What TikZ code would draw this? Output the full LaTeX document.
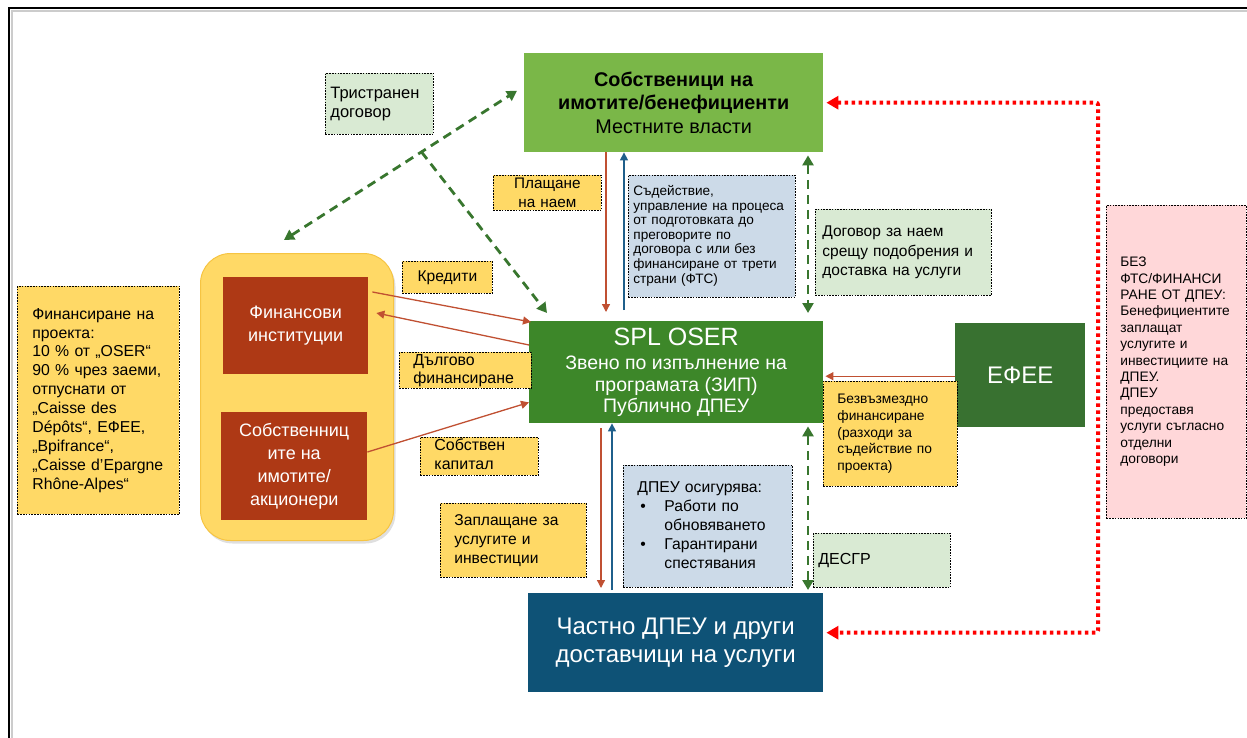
\documentclass[tikz,border=0pt]{standalone}
\usepackage{fontspec}
\setmainfont{Liberation Sans}
\usetikzlibrary{arrows.meta,calc,shadows}
\definecolor{topg}{RGB}{122,183,72}
\definecolor{splg}{RGB}{61,135,41}
\definecolor{efeeg}{RGB}{56,113,48}
\definecolor{dblue}{RGB}{14,82,118}
\definecolor{rust}{RGB}{174,57,21}
\definecolor{ylw}{RGB}{255,217,102}
\definecolor{ylwedge}{RGB}{246,196,66}
\definecolor{lgreen}{RGB}{217,234,211}
\definecolor{lblue}{RGB}{204,218,232}
\definecolor{lpink}{RGB}{255,215,217}
\definecolor{redln}{RGB}{192,80,50}
\definecolor{blueln}{RGB}{31,95,139}
\definecolor{dashg}{RGB}{56,118,46}
\newcommand{\fsz}[2]{\fontsize{#1}{#2}\selectfont}
\newcommand{\lines}[2]{\hspace*{#1pt}\begin{tabular}{@{}l@{}}#2\end{tabular}}
\tikzset{
  blk/.style={anchor=north west, inner sep=0pt, align=center},
  lbl/.style={anchor=north west, draw=black, line width=0.8pt, dash pattern=on 1.6pt off 1.2pt, inner sep=0pt, align=left},
  redarr/.style={draw=redln, line width=1.3pt, -{Triangle[length=8pt,width=8pt]}},
  bluearr/.style={draw=blueln, line width=1.3pt, -{Triangle[length=8pt,width=8pt]}},
  greendash/.style={draw=dashg, line width=2.8pt, dash pattern=on 9pt off 6pt, {Triangle[length=10pt,width=11pt]}-{Triangle[length=10pt,width=11pt]}},
  greenone/.style={draw=dashg, line width=2.8pt, dash pattern=on 9pt off 6pt, -{Triangle[length=10pt,width=11pt]}},
  reddot/.style={draw=red, line width=4pt, dash pattern=on 3.5pt off 3.5pt, {Triangle[length=12pt,width=13pt]}-{Triangle[length=12pt,width=13pt]}},
}
\begin{document}
\begin{tikzpicture}[x=1pt,y=-1pt]
\useasboundingbox (0,0) rectangle (1247,738);
% frame
\draw[gray!40, line width=2pt] (12,740) -- (12,11) -- (1247,11);
\draw[black, line width=1.3pt] (9,738) -- (9,8) -- (1247,8);

% group box
\node[blk, minimum width=193pt, minimum height=287pt, fill=ylw, draw=ylwedge, line width=1pt, rounded corners=30pt,
  drop shadow={shadow xshift=2pt, shadow yshift=-3pt, opacity=0.25, fill=gray}] (grp) at (200,253) {};
\node[blk, minimum width=145pt, minimum height=97pt, fill=rust, text=white, font=\fsz{18}{23}] (fin) at (223,277)
  {Финансови\\институции};
\node[blk, minimum width=146pt, minimum height=108pt, fill=rust, text=white, font=\fsz{18}{23}] (own) at (221,412)
  {Собственниц\\ите на\\имотите/\\акционери};

% main boxes
\node[blk, minimum width=299pt, minimum height=99pt, fill=topg, font=\fsz{19.8}{23.5}] (top) at (524,53)
  {\textbf{Собственици на}\\\textbf{имотите/бенефициенти}\\Местните власти};
\node[blk, minimum width=294pt, minimum height=102pt, fill=splg, text=white, font=\fsz{19.5}{21.5}] (spl) at (529,321)
  {{\fsz{25}{26}SPL OSER}\\[3pt]Звено по изпълнение на\\програмата (ЗИП)\\Публично ДПЕУ};
\node[blk, minimum width=295pt, minimum height=99pt, fill=dblue, text=white, font=\fsz{24}{28.5}] (ch) at (528,593)
  {Частно ДПЕУ и други\\доставчици на услуги};
\node[blk, minimum width=130pt, minimum height=104pt, fill=efeeg, text=white, font=\fsz{24}{28}] (efee) at (955,323)
  {ЕФЕЕ};

% labels
\node[lbl, fill=lgreen, minimum height=61pt, text width=108pt, font=\fsz{16.5}{19}] (tri) at (325,73)
  {\lines{5}{Тристранен\\договор}};
\node[lbl, fill=ylw, minimum height=35pt, text width=108pt, align=center, font=\fsz{15.3}{18.5}] (plat) at (493,175)
  {Плащане\\на наем};
\node[lbl, fill=lblue, minimum height=122pt, text width=167pt, font=\fsz{13.6}{14.6}] (sud) at (628,175)
  {\lines{5}{Съдействие,\\управление на процеса\\от подготовката до\\преговорите по\\договора с или без\\финансиране от трети\\страни (ФТС)}};
\node[lbl, fill=lgreen, minimum height=86pt, text width=176pt, font=\fsz{15.5}{19.5}] (dog) at (815,209)
  {\lines{7}{Договор за наем\\срещу подобрения и\\доставка на услуги}};
\node[lbl, fill=lpink, minimum height=313pt, text width=140pt, font=\fsz{13.75}{16.4}] (pink) at (1106,205)
  {\lines{14}{БЕЗ\\ФТС/ФИНАНСИ\\РАНЕ ОТ ДПЕУ:\\Бенефициентите\\заплащат\\услугите и\\инвестициите на\\ДПЕУ.\\ДПЕУ\\предоставя\\услуги съгласно\\отделни\\договори}};
\node[lbl, fill=ylw, minimum height=105pt, text width=134pt, font=\fsz{13.8}{16.7}] (bez) at (823,381)
  {\lines{14}{Безвъзмездно\\финансиране\\(разходи за\\съдействие по\\проекта)}};
\node[lbl, fill=ylw, minimum height=32pt, text width=90pt, align=center, font=\fsz{15.6}{18}] (kred) at (402,261)
  {Кредити};
\node[lbl, fill=ylw, minimum height=36pt, text width=132pt, font=\fsz{15.9}{18}] (dolg) at (399,352)
  {\lines{14}{Дългово\\финансиране}};
\node[lbl, fill=ylw, minimum height=38pt, text width=118pt, font=\fsz{16}{19}] (sob) at (420,437)
  {\lines{14}{Собствен\\капитал}};
\node[lbl, fill=ylw, minimum height=228pt, text width=162pt, font=\fsz{15.8}{18.9}] (left) at (17,286)
  {\lines{15}{Финансиране на\\проекта:\\10 \% от „OSER“\\90 \% чрез заеми,\\отпуснати от\\„Caisse des\\Dépôts“, ЕФЕЕ,\\„Bpifrance“,\\„Caisse d’Epargne\\Rhône-Alpes“}};
\node[lbl, fill=ylw, minimum height=74pt, text width=146pt, font=\fsz{15.6}{19}] (zap) at (440,503)
  {\lines{14}{Заплащане за\\услугите и\\инвестиции}};
\node[lbl, fill=lblue, minimum height=122pt, text width=169pt, font=\fsz{15.7}{19}] (dpeu) at (623,465)
  {\lines{14}{ДПЕУ осигурява:\\\makebox[27pt][l]{\hspace{3pt}•}Работи по\\\hspace*{27pt}обновяването\\\makebox[27pt][l]{\hspace{3pt}•}Гарантирани\\\hspace*{27pt}спестявания}};
\node[lbl, fill=lgreen, minimum height=54pt, text width=137pt, font=\fsz{16}{19}] (desgr) at (813,533)
  {\lines{5}{ДЕСГР}};

% tri-party dashed connectors
\coordinate (g1) at ($(grp.north east)+(-110,-13)$);
\coordinate (g2) at ($(top.west)+(-7,-12)$);
\coordinate (gj) at ($(g1)!0.59!(g2)$);
\draw[greendash] (g1) -- (g2);
\draw[greenone] (gj) -- ($(spl.north west)+(18,-8)$);

% vertical connectors top <-> spl
\draw[redarr] ($(top.south west)+(82,0)$) -- ($(spl.north west)+(77,-9)$);
\draw[bluearr] ($(spl.north west)+(95,-11)$) -- ($(top.south west)+(100,0)$);
\draw[greendash] ($(top.south west)+(284,3)$) -- ($(spl.north west)+(279,-8)$);

% vertical connectors spl <-> ch
\draw[redarr] ($(spl.south west)+(72,5)$) -- ($(ch.north west)+(73,-5)$);
\draw[bluearr] ($(ch.north west)+(84,-3)$) -- ($(spl.south west)+(83,0)$);
\draw[greendash] ($(spl.south west)+(279,3)$) -- ($(ch.north west)+(280,-3)$);

% EFEE -> SPL
\draw[redarr] ($(efee.west)+(0,1)$) -- ($(efee.west -| spl.east)+(2,1)$);

% left arrows
\draw[redarr] ($(fin.north east)+(4,15)$) -- ($(spl.north west)+(2,1)$);
\draw[redarr] ($(spl.north west)+(0,24)$) -- ($(fin.north east)+(8,36)$);
\draw[redarr] ($(own.north east)+(0,40)$) -- ($(spl.south west)+(0,-21)$);

% red dotted
\coordinate (rx) at ($(pink.west)+(-8,0)$);
\draw[reddot, rounded corners=2pt] ($(top.east)+(3,0)$) -- (top.east -| rx) -- ($(ch.east -| rx)+(0,-10)$) -- ($(ch.east)+(3,-10)$);
\end{tikzpicture}
\end{document}
